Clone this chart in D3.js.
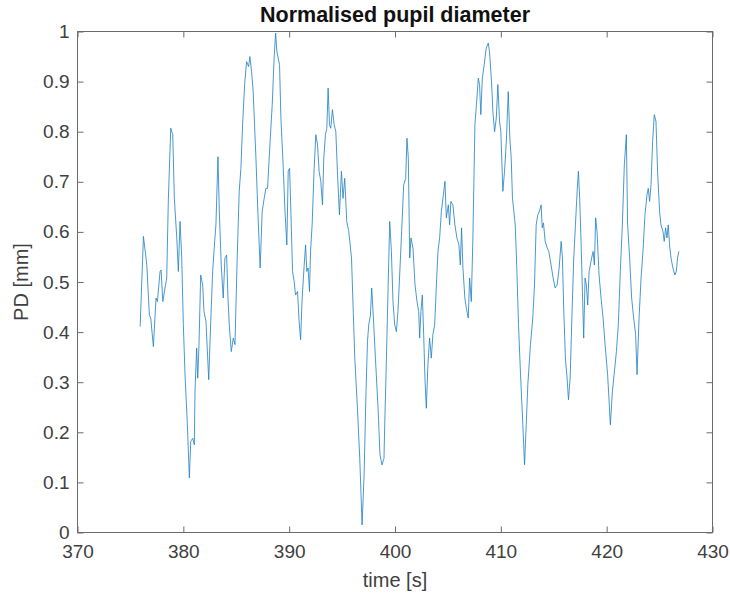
<!DOCTYPE html>
<html>
<head>
<meta charset="utf-8">
<script src="https://cdn.jsdelivr.net/npm/d3@7"></script>
<style>
  body { margin: 0; background: #fff; }
  svg text { font-family: Arial, "Liberation Sans", Helvetica, sans-serif; }
</style>
</head>
<body>
<div id="chart"></div>
<script>
// time stamps (s) and normalised pupil diameter
const timeS = [
  375.92, 376.23, 376.55, 376.79, 376.92, 377.17, 377.42, 377.55, 377.80, 377.90,
  378.06, 378.27, 378.43, 378.58, 378.81, 379.00, 379.15, 379.38, 379.53, 379.69,
  379.85, 380.00, 380.16, 380.38, 380.57, 380.70, 380.89, 381.04, 381.10, 381.26,
  381.36, 381.48, 381.64, 381.83, 381.95, 382.14, 382.40, 382.58, 382.77, 382.96,
  383.08, 383.27, 383.40, 383.58, 383.77, 383.93, 384.09, 384.22, 384.34, 384.53,
  384.72, 384.88, 385.09, 385.28, 385.44, 385.60, 385.79, 385.98, 386.17, 386.29,
  386.45, 386.60, 386.86, 387.08, 387.26, 387.45, 387.64, 387.80, 387.96, 388.18,
  388.40, 388.58, 388.72, 388.84, 388.96, 389.09, 389.22, 389.43, 389.59, 389.78,
  389.91, 390.04, 390.16, 390.32, 390.47, 390.60, 390.79, 390.94, 391.08, 391.23,
  391.42, 391.55, 391.67, 391.79, 391.92, 392.02, 392.17, 392.36, 392.52, 392.68,
  392.83, 392.99, 393.15, 393.27, 393.43, 393.56, 393.68, 393.81, 393.93, 394.09,
  394.25, 394.41, 394.57, 394.75, 394.94, 395.09, 395.25, 395.44, 395.63, 395.89,
  396.20, 396.45, 396.67, 396.89, 397.08, 397.26, 397.40, 397.52, 397.68, 397.80,
  397.96, 398.15, 398.40, 398.58, 398.77, 398.96, 399.03, 399.19, 399.34, 399.50,
  399.66, 399.81, 399.97, 400.13, 400.28, 400.44, 400.63, 400.82, 401.01, 401.13,
  401.26, 401.39, 401.51, 401.70, 401.89, 402.08, 402.24, 402.33, 402.45, 402.58,
  402.71, 402.83, 402.96, 403.11, 403.27, 403.43, 403.58, 403.75, 403.91, 404.06,
  404.22, 404.38, 404.53, 404.72, 404.85, 405.04, 405.16, 405.28, 405.47, 405.66,
  405.85, 406.04, 406.17, 406.29, 406.42, 406.60, 406.74, 406.92, 407.05, 407.21,
  407.36, 407.55, 407.74, 407.87, 407.99, 408.11, 408.25, 408.43, 408.62, 408.81,
  408.93, 409.12, 409.25, 409.41, 409.57, 409.72, 409.88, 410.00, 410.19, 410.35,
  410.52, 410.70, 410.85, 410.98, 411.10, 411.23, 411.36, 411.48, 411.67, 411.86,
  412.08, 412.24, 412.40, 412.55, 412.80, 413.02, 413.18, 413.34, 413.49, 413.65,
  413.81, 413.91, 414.03, 414.19, 414.38, 414.53, 414.75, 414.94, 415.13, 415.32,
  415.51, 415.70, 415.82, 415.94, 416.10, 416.26, 416.39, 416.55, 416.74, 416.89,
  417.05, 417.21, 417.33, 417.45, 417.58, 417.71, 417.83, 417.96, 418.08, 418.21,
  418.34, 418.46, 418.58, 418.72, 418.84, 418.96, 419.09, 419.28, 419.47, 419.66,
  419.85, 420.09, 420.35, 420.54, 420.73, 420.92, 421.10, 421.29, 421.48, 421.67,
  421.86, 421.98, 422.17, 422.36, 422.55, 422.74, 422.87, 423.06, 423.25, 423.43,
  423.62, 423.81, 423.93, 424.06, 424.19, 424.34, 424.50, 424.66, 424.81, 425.00,
  425.13, 425.32, 425.44, 425.57, 425.70, 425.82, 425.94, 426.08, 426.26, 426.45,
  426.58, 426.70, 426.83
];

const pupilPD = [
  0.411, 0.591, 0.534, 0.434, 0.428, 0.371, 0.468, 0.461, 0.521, 0.524,
  0.461, 0.488, 0.508, 0.661, 0.807, 0.794, 0.667, 0.588, 0.521, 0.621,
  0.548, 0.415, 0.315, 0.215, 0.109, 0.182, 0.188, 0.175, 0.281, 0.368,
  0.308, 0.375, 0.514, 0.494, 0.441, 0.421, 0.305, 0.415, 0.521, 0.581,
  0.614, 0.750, 0.641, 0.534, 0.468, 0.548, 0.554, 0.468, 0.415, 0.361,
  0.388, 0.375, 0.548, 0.681, 0.727, 0.814, 0.894, 0.940, 0.930, 0.950,
  0.920, 0.880, 0.747, 0.620, 0.528, 0.641, 0.667, 0.687, 0.687, 0.774,
  0.854, 0.947, 0.997, 0.960, 0.947, 0.934, 0.827, 0.734, 0.648, 0.574,
  0.721, 0.727, 0.641, 0.521, 0.501, 0.474, 0.481, 0.421, 0.385, 0.468,
  0.534, 0.574, 0.521, 0.528, 0.481, 0.561, 0.614, 0.727, 0.794, 0.774,
  0.721, 0.701, 0.654, 0.747, 0.794, 0.807, 0.887, 0.814, 0.807, 0.844,
  0.814, 0.800, 0.714, 0.634, 0.721, 0.667, 0.707, 0.621, 0.601, 0.548,
  0.348, 0.248, 0.148, 0.015, 0.115, 0.281, 0.381, 0.415, 0.434, 0.488,
  0.428, 0.348, 0.248, 0.155, 0.135, 0.148, 0.215, 0.348, 0.481, 0.621,
  0.561, 0.461, 0.415, 0.401, 0.441, 0.514, 0.601, 0.694, 0.707, 0.787,
  0.747, 0.548, 0.588, 0.568, 0.494, 0.461, 0.441, 0.388, 0.441, 0.474,
  0.395, 0.308, 0.248, 0.335, 0.388, 0.348, 0.395, 0.415, 0.494, 0.561,
  0.588, 0.641, 0.667, 0.701, 0.628, 0.654, 0.614, 0.661, 0.654, 0.614,
  0.588, 0.574, 0.534, 0.608, 0.528, 0.468, 0.448, 0.428, 0.508, 0.461,
  0.588, 0.814, 0.867, 0.907, 0.894, 0.834, 0.907, 0.934, 0.967, 0.977,
  0.960, 0.900, 0.840, 0.800, 0.827, 0.894, 0.820, 0.800, 0.681, 0.721,
  0.780, 0.880, 0.787, 0.747, 0.667, 0.641, 0.614, 0.548, 0.415, 0.315,
  0.215, 0.135, 0.215, 0.295, 0.375, 0.428, 0.494, 0.614, 0.634, 0.641,
  0.654, 0.608, 0.618, 0.581, 0.568, 0.561, 0.534, 0.508, 0.488, 0.494,
  0.528, 0.581, 0.548, 0.448, 0.348, 0.308, 0.265, 0.308, 0.448, 0.548,
  0.614, 0.681, 0.721, 0.667, 0.581, 0.481, 0.388, 0.508, 0.494, 0.454,
  0.521, 0.534, 0.548, 0.561, 0.534, 0.628, 0.601, 0.514, 0.468, 0.428,
  0.375, 0.315, 0.215, 0.281, 0.321, 0.361, 0.415, 0.521, 0.614, 0.734,
  0.794, 0.614, 0.548, 0.468, 0.428, 0.395, 0.315, 0.428, 0.508, 0.561,
  0.634, 0.674, 0.687, 0.661, 0.694, 0.780, 0.834, 0.820, 0.721, 0.641,
  0.614, 0.601, 0.581, 0.608, 0.588, 0.614, 0.574, 0.548, 0.528, 0.514,
  0.521, 0.548, 0.561
];

const xTicks = [370, 380, 390, 400, 410, 420, 430];
const yTicks = [0, 0.1, 0.2, 0.3, 0.4, 0.5, 0.6, 0.7, 0.8, 0.9, 1];
const yTickLabels = ["0", "0.1", "0.2", "0.3", "0.4", "0.5", "0.6", "0.7", "0.8", "0.9", "1"];

const dims = { width: 730, height: 595 };
const plot = { left: 77.5, right: 712.5, top: 31.5, bottom: 532.5 };
const tickLen = 6;
const axisColor = "#6b6b6b";
const labelColor = "#404040";

const svg = d3
  .select("#chart")
  .append("svg")
  .attr("width", dims.width)
  .attr("height", dims.height);

const x = d3.scaleLinear().domain([370, 430]).range([plot.left, plot.right]);
const y = d3.scaleLinear().domain([0, 1]).range([plot.bottom, plot.top]);

// line first so the frame sits on top
const line = d3
  .line()
  .x((d, i) => x(timeS[i]))
  .y((d) => y(d));

svg
  .append("path")
  .datum(pupilPD)
  .attr("d", line)
  .attr("fill", "none")
  .attr("stroke", "#1f7fc4")
  .attr("stroke-opacity", 0.9)
  .attr("stroke-width", 0.9)
  .attr("stroke-linejoin", "round");

// axes with inward ticks (MATLAB style), box on all four sides
function styleAxis(g) {
  g.select(".domain").remove();
  g.selectAll(".tick line").attr("stroke", axisColor);
  g.selectAll(".tick text")
    .attr("fill", labelColor)
    .style("font-size", "19px");
}

svg
  .append("g")
  .attr("transform", `translate(0,${plot.bottom})`)
  .call(
    d3.axisBottom(x).tickValues(xTicks).tickSizeInner(-tickLen).tickSizeOuter(0).tickPadding(12)
      .tickFormat(d3.format("d"))
  )
  .call(styleAxis);

svg
  .append("g")
  .attr("transform", `translate(0,${plot.top})`)
  .call(d3.axisTop(x).tickValues(xTicks).tickSizeInner(-tickLen).tickSizeOuter(0).tickFormat(""))
  .call(styleAxis);

svg
  .append("g")
  .attr("transform", `translate(${plot.left},0)`)
  .call(
    d3.axisLeft(y).tickValues(yTicks).tickSizeInner(-tickLen).tickSizeOuter(0).tickPadding(8)
      .tickFormat((d, i) => yTickLabels[i])
  )
  .call(styleAxis);

svg
  .append("g")
  .attr("transform", `translate(${plot.right},0)`)
  .call(d3.axisRight(y).tickValues(yTicks).tickSizeInner(-tickLen).tickSizeOuter(0).tickFormat(""))
  .call(styleAxis);

svg
  .append("rect")
  .attr("x", plot.left)
  .attr("y", plot.top)
  .attr("width", plot.right - plot.left)
  .attr("height", plot.bottom - plot.top)
  .attr("fill", "none")
  .attr("stroke", axisColor)
  .attr("stroke-width", 1);

// title and axis labels
const midX = (plot.left + plot.right) / 2;

svg
  .append("text")
  .attr("x", midX)
  .attr("y", 21.5)
  .attr("text-anchor", "middle")
  .attr("font-weight", "bold")
  .attr("font-size", "21.5px")
  .attr("fill", "#111")
  .text("Normalised pupil diameter");

svg
  .append("text")
  .attr("x", midX)
  .attr("y", 587)
  .attr("text-anchor", "middle")
  .attr("font-size", "20px")
  .attr("fill", labelColor)
  .text("time [s]");

svg
  .append("text")
  .attr("transform", `translate(28,${(plot.top + plot.bottom) / 2}) rotate(-90)`)
  .attr("text-anchor", "middle")
  .attr("font-size", "20px")
  .attr("fill", labelColor)
  .text("PD [mm]");
</script>
</body>
</html>
